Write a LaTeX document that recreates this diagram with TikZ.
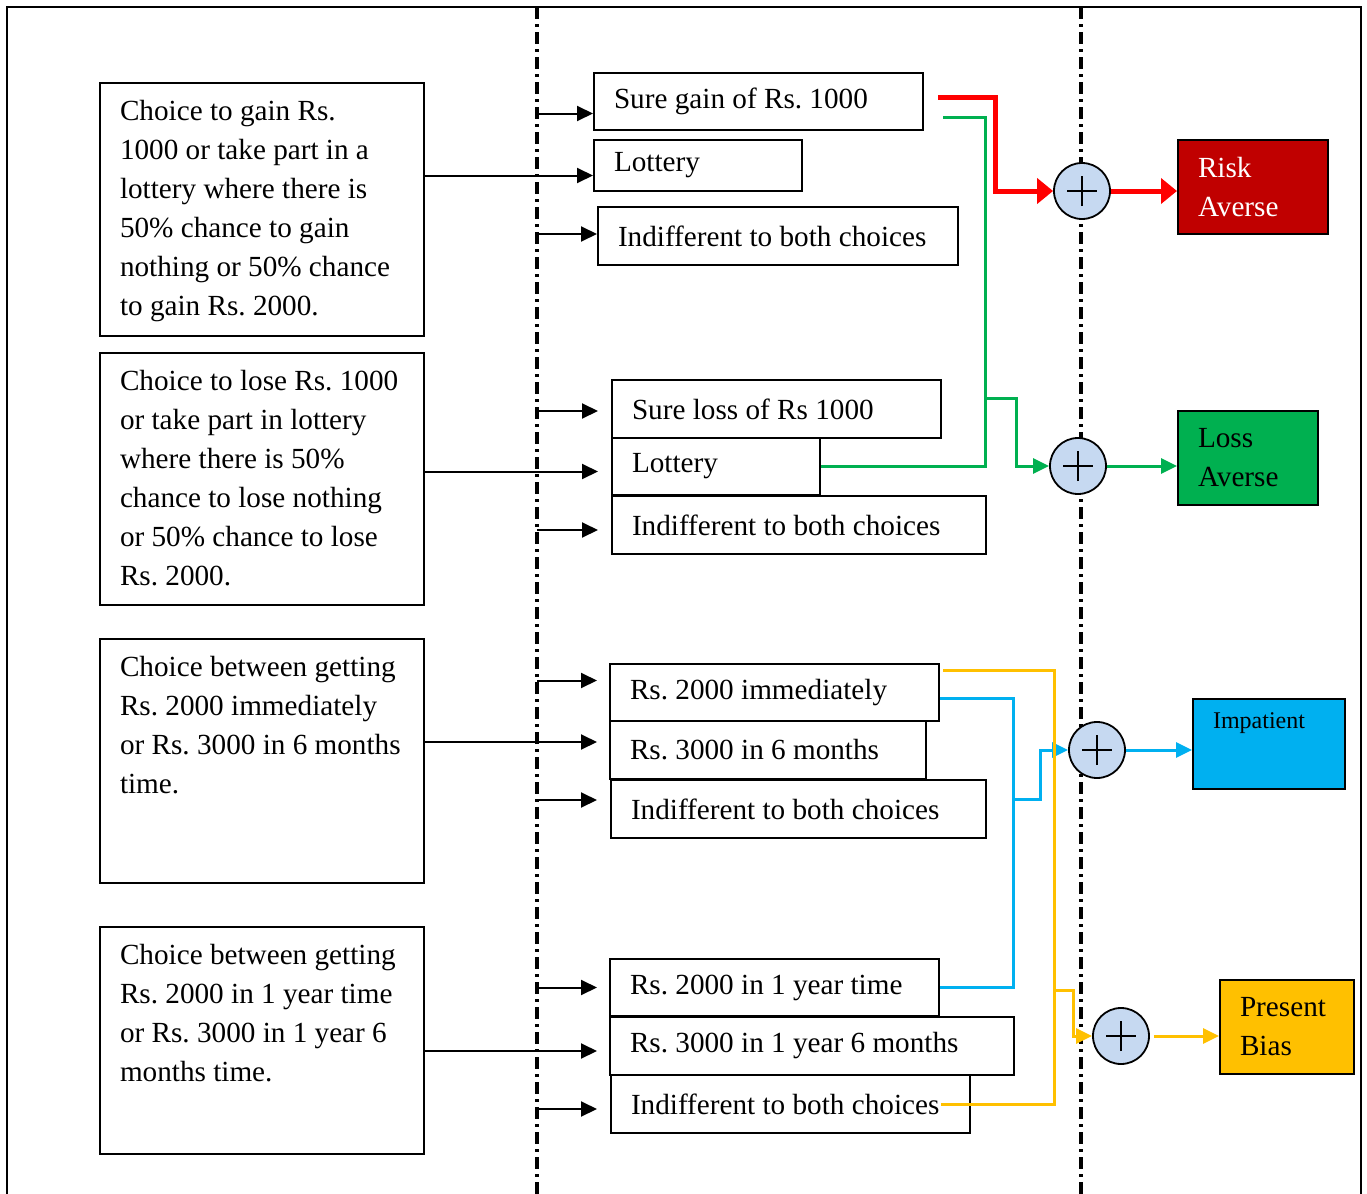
\documentclass[tikz,border=0pt]{standalone}
\usepackage{fontspec}
\setmainfont{Liberation Serif}
\usetikzlibrary{arrows.meta}
\frenchspacing

\definecolor{rotl}{HTML}{FF0000}
\definecolor{rotbox}{HTML}{C00000}
\definecolor{gruenl}{HTML}{00B050}
\definecolor{blaul}{HTML}{00B0F0}
\definecolor{gelbl}{HTML}{FFC000}
\definecolor{kreis}{HTML}{C6D9F1}

% Text der Fragekaesten: Hoehe des Kastens, Inhalt
\newcommand{\feld}[2]{\parbox[c][\dimexpr #1-17pt\relax][t]{142pt}{#2}}

\begin{document}
\begin{tikzpicture}[x=0.5pt, y=-0.5pt,
    >={Triangle[length=8pt,width=7.5pt]},   %Voreinstellung fuer Pfeilspitzen
    font=\fontsize{14.6}{19.5}\selectfont,
    frage/.style={draw, line width=1pt, anchor=north west, inner xsep=10pt, inner ysep=8.5pt},
    wahl/.style={draw, line width=1pt, anchor=north west, inner xsep=10pt, inner ysep=0pt, align=flush left},
    ziel/.style={draw, line width=1pt, anchor=north west, inner xsep=10pt, inner ysep=0pt, align=flush left},
    plus/.style={circle, draw, line width=0.9pt, fill=kreis, minimum size=28pt, inner sep=0pt,
        path picture={\draw[line width=1.3pt] (path picture bounding box.center) +(-7.5pt,0) -- +(7.5pt,0) +(0,-7.5pt) -- +(0,7.5pt);}},
    pfeil/.style={->, line width=1pt},
    grenze/.style={line width=1.8pt, dash pattern=on 6pt off 2.5pt on 1.5pt off 2.5pt},
    rot/.style={draw=rotl, line width=2.5pt},
    gruen/.style={draw=gruenl, line width=1.5pt},
    blau/.style={draw=blaul, line width=1.5pt},
    gelb/.style={draw=gelbl, line width=1.5pt}]
    \useasboundingbox (0,0) rectangle (1367,1194);
    % Rahmen und Trennlinien
    \draw[line width=1pt] (7,1194) -- (7,7) -- (1361,7) -- (1361,1194);
    \coordinate (dl) at (537,0);
    \coordinate (dr) at (1081,0);
    \draw[grenze] (537,7) -- (537,1194);
    \draw[grenze] (1081,7) -- (1081,1194);
    % Fragen
    \node[frage] (q1) at (99,82) {\feld{126.5pt}{Choice to gain Rs.\\ 1000 or take part in a\\ lottery where there is\\ 50\% chance to gain\\ nothing or 50\% chance\\ to gain Rs. 2000.}};
    \node[frage] (q2) at (99,352) {\feld{126pt}{Choice to lose Rs. 1000\\ or take part in lottery\\ where there is 50\%\\ chance to lose nothing\\ or 50\% chance to lose\\ Rs. 2000.}};
    \node[frage] (q3) at (99,638) {\feld{122pt}{Choice between getting\\ Rs. 2000 immediately\\ or Rs. 3000 in 6 months\\ time.}};
    \node[frage] (q4) at (99,926) {\feld{113.5pt}{Choice between getting\\ Rs. 2000 in 1 year time\\ or Rs. 3000 in 1 year 6\\ months time.}};
    % Antworten
    \node[wahl, minimum height=28.5pt, text width=144.5pt] (m1) at (593,72) {Sure gain of Rs. 1000};
    \node[wahl, minimum height=25.5pt, text width=84pt] (m2) at (593,139) {Lottery};
    \node[wahl, minimum height=29pt, text width=160pt] (m3) at (597,206) {Indifferent to both choices};
    \node[wahl, minimum height=29pt, text width=144.5pt] (m4) at (611,379) {Sure loss of Rs 1000};
    \node[wahl, minimum height=28.5pt, text width=84pt] (m5) at (611,437) {Lottery};
    \node[wahl, minimum height=29pt, text width=167pt] (m6) at (611,495) {Indifferent to both choices};
    \node[wahl, minimum height=28.5pt, text width=144.5pt] (m7) at (609,663) {Rs. 2000 immediately};
    \node[wahl, minimum height=29pt, text width=138pt] (m8) at (609,720) {Rs. 3000 in 6 months};
    \node[wahl, minimum height=29pt, text width=167.5pt] (m9) at (610,779) {Indifferent to both choices};
    \node[wahl, minimum height=28.5pt, text width=144.5pt] (m10) at (609,958) {Rs. 2000 in 1 year time};
    \node[wahl, minimum height=29pt, text width=182pt] (m11) at (609,1016) {Rs. 3000 in 1 year 6 months};
    \node[wahl, minimum height=29pt, text width=159.5pt] (m12) at (610,1074) {Indifferent to both choices};
    % Ergebnisse
    \node[ziel, fill=rotbox, text=white, minimum height=47pt, text width=55pt] (r1) at (1177,139) {Risk\\ Averse};
    \node[ziel, fill=gruenl, minimum height=47pt, text width=50pt] (r2) at (1177,410) {Loss\\ Averse};
    \node[ziel, fill=blaul, inner ysep=7pt, text width=56pt] (r3) at (1192,698) {\parbox[c][31pt][t]{56pt}{\fontsize{12}{14}\selectfont Impatient}};
    \node[ziel, fill=gelbl, minimum height=47pt, text width=47pt] (r4) at (1219,979) {Present\\ Bias};
    % Kreise
    \node[plus] (c1) at (1082,191) {};
    \node[plus] (c2) at (1078,466) {};
    \node[plus] (c3) at (1097,750) {};
    \node[plus] (c4) at (1121,1036) {};
    % Pfeile von der Trennlinie
    \foreach \m/\dy/\s in {m1/-6pt/0pt, m3/1pt/0pt, m4/-1pt/6.5pt, m6/-2.5pt/6.5pt, m7/6pt/6pt, m9/4.5pt/6.5pt, m10/0pt/6pt, m12/-2.5pt/6.5pt} {
        \coordinate (ende) at ([yshift=\dy]\m.west);
        \draw[pfeil, shorten >=\s] (dl |- ende) -- (ende);
    }
    % Pfeile von den Fragen
    \foreach \q/\m/\dy/\s in {q1/m2/-5pt/0pt, q2/m5/-2.5pt/6.5pt, q3/m8/4pt/6pt, q4/m11/-2.5pt/6pt} {
        \coordinate (ende) at ([yshift=\dy]\m.west);
        \draw[pfeil, shorten >=\s] (\q.east |- ende) -- (ende);
    }
    % Farbige Verbindungen
    \coordinate (rA) at (938,97);
    \draw[rot, -{Triangle[length=8pt,width=12.5pt]}] (rA) -- (995,97) |- (c1);
    \draw[rot, -{Triangle[length=8pt,width=12.5pt]}] (c1) -- (c1 -| r1.west);
    \coordinate (gA) at (943,117);
    \coordinate (gB) at (985,398);
    \draw[gruen] (gA) -- (985,117) |- (m5);
    \draw[gruen, ->] (gB) -- (1016,398) |- (c2);
    \draw[gruen, ->] (c2) -- (c2 -| r2.west);
    \coordinate (bA) at (940,698);
    \coordinate (bB) at (1013,799);
    \draw[blau] (bA) -- (1013,698) |- (m10);
    \draw[blau, ->] (bB) -- (1040,799) |- (c3);
    \draw[blau, ->] (c3) -- (c3 -| r3.west);
    \coordinate (yA) at (943,670);
    \coordinate (yB) at (1054,990);
    \draw[gelb] (yA) -- (1054,670) |- ([xshift=-15pt]m12.east);
    \draw[gelb, ->] (yB) -- (1073,990) |- (c4);
    \draw[gelb, ->] ([xshift=2pt]c4.east) -- (c4 -| r4.west);
\end{tikzpicture}
\end{document}
